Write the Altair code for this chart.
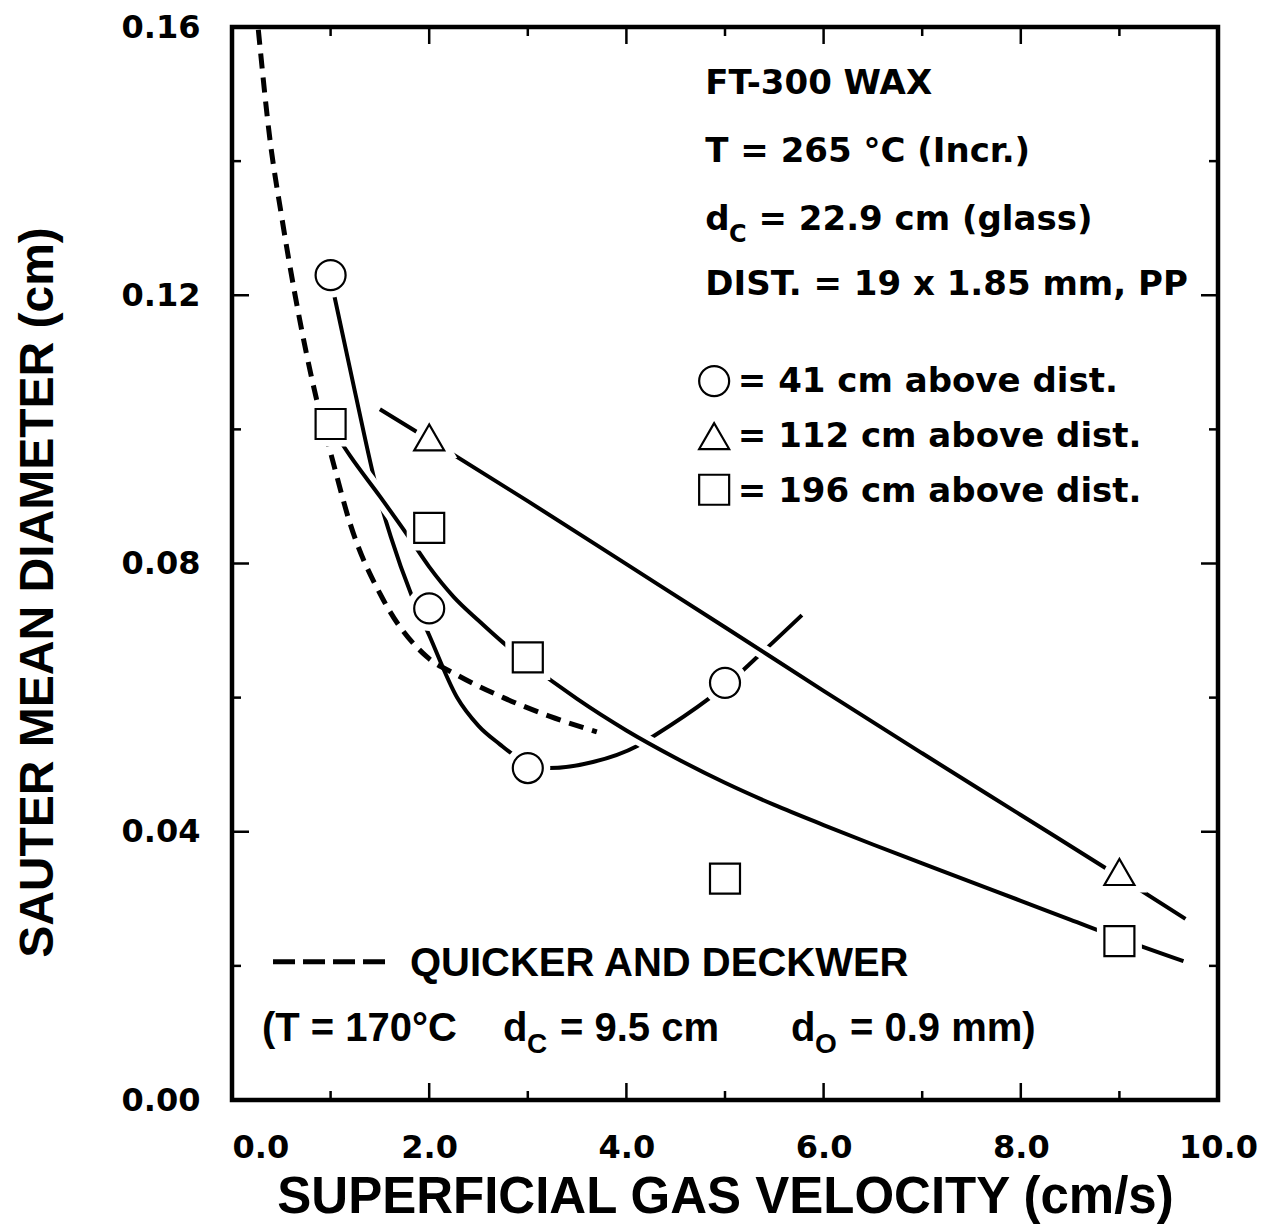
import altair as alt
import pandas as pd

# ---------------- data ----------------
# measured points (superficial gas velocity cm/s, Sauter mean diameter cm)
circle_x = [1.0, 2.0, 3.0, 5.0]
circle_y = [0.1230, 0.0733, 0.0495, 0.0622]
triangle_x = [2.0, 9.0]
triangle_y = [0.0988, 0.0340]
square_x = [1.0, 2.0, 3.0, 5.0, 9.0]
square_y = [0.1008, 0.0853, 0.0660, 0.0330, 0.0237]

# hand-drawn fitted curves
circle_curve_x = [1.0, 1.25, 1.47, 1.61, 1.82, 2.0, 2.28, 2.5, 2.72, 2.88, 3.05, 3.22, 3.66, 4.11, 4.29, 4.85, 5.0, 5.33, 5.78]
circle_curve_y = [0.1225, 0.1054, 0.0910, 0.0840, 0.0753, 0.0693, 0.0601, 0.0558, 0.0530, 0.0512, 0.0499, 0.0495, 0.0504, 0.0528, 0.0544, 0.0600, 0.0617, 0.0661, 0.0723]
triangle_curve_x = [1.5, 2.0, 3.0, 4.0, 5.0, 6.0, 7.0, 8.0, 9.0, 9.67]
triangle_curve_y = [0.1030, 0.0985, 0.0893, 0.0799, 0.0705, 0.0610, 0.0517, 0.0425, 0.0333, 0.0270]
square_curve_x = [1.0, 1.2, 1.5, 1.8, 2.0, 2.25, 2.5, 2.75, 3.0, 3.5, 4.0, 4.5, 5.0, 5.5, 6.0, 6.5, 7.0, 7.5, 8.0, 8.5, 9.0, 9.65]
square_curve_y = [0.1005, 0.0960, 0.0900, 0.0838, 0.0795, 0.0750, 0.0715, 0.0682, 0.0652, 0.0598, 0.0551, 0.0510, 0.0473, 0.0440, 0.0410, 0.0381, 0.0353, 0.0325, 0.0297, 0.0269, 0.0241, 0.0207]
# Quicker and Deckwer correlation (dashed)
qd_x = [0.267, 0.385, 0.504, 0.64, 0.859, 1.011, 1.197, 1.534, 1.975, 2.279, 2.752, 3.225, 3.70]
qd_y = [0.1596, 0.1432, 0.1317, 0.1200, 0.1044, 0.0959, 0.0860, 0.0746, 0.0661, 0.0634, 0.0600, 0.0572, 0.0549]

# axes
x_label_values = [0, 2, 4, 6, 8, 10]
y_label_values = [0.0, 0.04, 0.08, 0.12, 0.16]
x_major_ticks = [2, 4, 6, 8]
x_minor_ticks = [1, 3, 5, 7, 9]
y_major_ticks = [0.04, 0.08, 0.12]
y_minor_ticks = [0.02, 0.06, 0.10, 0.14]

# legend / annotation texts
series_names = ["41", "112", "196"]
legend_texts = ["= 41 cm above dist.", "= 112 cm above dist.", "= 196 cm above dist."]
legend_mx = [4.89, 4.89, 4.89]
legend_my = [0.1072, 0.0990, 0.0910]
legend_tx = [5.13, 5.13, 5.13]
legend_ty = [0.1055, 0.0973, 0.0892]

info_texts = ["FT-300 WAX", "T = 265 °C (Incr.)", "d", "= 22.9 cm (glass)", "DIST. = 19 x 1.85 mm, PP"]
info_x = [4.80, 4.80, 4.80, 5.34, 4.80]
info_y = [0.1500, 0.1399, 0.1297, 0.1297, 0.1200]
info_sub_texts = ["C"]
info_sub_x = [5.04]
info_sub_y = [0.1279]

note_texts = ["QUICKER AND DECKWER", "(T = 170°C", "d", "= 9.5 cm", "d", "= 0.9 mm)"]
note_x = [1.805, 0.304, 2.748, 3.327, 5.669, 6.268]
note_y = [0.0185, 0.0088, 0.0088, 0.0088, 0.0088, 0.0088]
note_sub_texts = ["C", "O"]
note_sub_x = [2.992, 5.913]
note_sub_y = [0.0070, 0.0070]
dash_sample_x = [0.416]
dash_sample_x2 = [1.602]
dash_sample_y = [0.0206]

# ---------------- build chart ----------------
W, H = 986, 1073
MAJ, MIN = 17, 9

def frame(xs, ys, series=None):
    d = pd.DataFrame({"x": xs, "y": ys})
    if series is not None:
        d["series"] = series
    return d

markers = pd.concat([
    frame(circle_x, circle_y, "41"),
    frame(triangle_x, triangle_y, "112"),
    frame(square_x, square_y, "196"),
])
curve_c = frame(circle_curve_x, circle_curve_y, "41")
curve_ts = pd.concat([
    frame(triangle_curve_x, triangle_curve_y, "112"),
    frame(square_curve_x, square_curve_y, "196"),
])
curve_qd = frame(qd_x, qd_y)

xs = alt.Scale(domain=[0, 10], nice=False, zero=False)
ys = alt.Scale(domain=[0, 0.16], nice=False, zero=False)
shape_scale = alt.Scale(domain=series_names, range=["circle", "triangle-up", "square"])

X = alt.X("x:Q", scale=xs, axis=alt.Axis(
    values=x_label_values, format=".1f", ticks=False, tickSize=0, domain=False, grid=False,
    labelFont="DejaVu Sans", labelFontWeight="bold", labelFontSize=32, labelColor="black",
    labelPadding=32, labelFlush=False, labelOverlap=False, labelBaseline="top",
    labelAlign={"condition": {"test": "datum.value === 0", "value": "left"}, "value": "center"},
    title="SUPERFICIAL GAS VELOCITY (cm/s)", titleFont="Liberation Sans", titleFontWeight="bold",
    titleFontSize=51, titleColor="black", titleY=112, titleBaseline="alphabetic"))
Y = alt.Y("y:Q", scale=ys, axis=alt.Axis(
    values=y_label_values, format=".2f", ticks=False, tickSize=0, domain=False, grid=False,
    labelFont="DejaVu Sans", labelFontWeight="bold", labelFontSize=32, labelColor="black",
    labelPadding=32, labelFlush=False, labelOverlap=False,
    title="SAUTER MEAN DIAMETER (cm)", titleFont="Liberation Sans", titleFontWeight="bold",
    titleFontSize=48, titleColor="black", titleX=-194, titleY=565, titleAngle=270,
    titleBaseline="middle", titleAlign="center"))

layers = []

# tick marks (inward, on all four sides)
def xticks(vals, length):
    d = pd.DataFrame({"x": vals})
    b = alt.Chart(d).mark_rule(color="black", strokeWidth=2.5).encode(x=X, y=alt.value(H), y2=alt.value(H - length))
    t = alt.Chart(d).mark_rule(color="black", strokeWidth=2.5).encode(x=X, y=alt.value(0), y2=alt.value(length))
    return [b, t]

def yticks(vals, length):
    d = pd.DataFrame({"y": vals})
    l = alt.Chart(d).mark_rule(color="black", strokeWidth=2.5).encode(y=Y, x=alt.value(0), x2=alt.value(length))
    r = alt.Chart(d).mark_rule(color="black", strokeWidth=2.5).encode(y=Y, x=alt.value(W), x2=alt.value(W - length))
    return [l, r]

layers += xticks(x_major_ticks, MAJ) + xticks(x_minor_ticks, MIN)
layers += yticks(y_major_ticks, MAJ) + yticks(y_minor_ticks, MIN)

# dashed correlation
layers.append(alt.Chart(curve_qd).mark_line(color="black", strokeWidth=5, strokeDash=[15, 9],
                                            interpolate="monotone").encode(x=X, y=Y))
# circle curve
layers.append(alt.Chart(curve_c).mark_line(color="black", strokeWidth=4,
                                           interpolate="monotone").encode(x=X, y=Y))
# white casing to break crossing curve, then triangle / square curves
layers.append(alt.Chart(curve_ts).mark_line(color="white", strokeWidth=15, strokeCap="butt",
                                            interpolate="monotone").encode(x=X, y=Y, detail="series:N"))
layers.append(alt.Chart(curve_ts).mark_line(color="black", strokeWidth=4,
                                            interpolate="monotone").encode(x=X, y=Y, detail="series:N"))
# marker halos and markers
layers.append(alt.Chart(markers).mark_point(filled=True, fill="white", stroke="white", strokeWidth=15,
                                            size=900, opacity=1).encode(
    x=X, y=Y, shape=alt.Shape("series:N", scale=shape_scale, legend=None)))
layers.append(alt.Chart(markers).mark_point(filled=True, fill="white", stroke="black", strokeWidth=2.2,
                                            size=900, opacity=1).encode(
    x=X, y=Y, shape=alt.Shape("series:N", scale=shape_scale, legend=None)))

# legend markers
leg = pd.DataFrame({"x": legend_mx, "y": legend_my, "series": series_names})
layers.append(alt.Chart(leg).mark_point(filled=True, fill="white", stroke="black", strokeWidth=2.2,
                                        size=900, opacity=1).encode(
    x=X, y=Y, shape=alt.Shape("series:N", scale=shape_scale, legend=None)))

def text_layer(texts, xs_, ys_, font, size):
    d = pd.DataFrame({"x": xs_, "y": ys_, "t": texts})
    return alt.Chart(d).mark_text(align="left", baseline="alphabetic", font=font, fontSize=size,
                                  fontWeight="bold", color="black").encode(x=X, y=Y, text="t:N")

layers.append(text_layer(legend_texts, legend_tx, legend_ty, "DejaVu Sans", 34))
layers.append(text_layer(info_texts, info_x, info_y, "DejaVu Sans", 34))
layers.append(text_layer(info_sub_texts, info_sub_x, info_sub_y, "DejaVu Sans", 24))
layers.append(text_layer(note_texts, note_x, note_y, "Liberation Sans", 40))
layers.append(text_layer(note_sub_texts, note_sub_x, note_sub_y, "Liberation Sans", 28))

# dashed legend sample
ds = pd.DataFrame({"x": dash_sample_x, "x2": dash_sample_x2, "y": dash_sample_y})
layers.append(alt.Chart(ds).mark_rule(color="black", strokeWidth=5, strokeDash=[22, 8]).encode(
    x=X, x2="x2:Q", y=Y))

chart = alt.layer(*layers).properties(
    width=W, height=H,
    autosize=alt.AutoSizeParams(type="none"),
    padding={"left": 224, "top": 19, "right": 45, "bottom": 125},
    background="white",
).configure_view(stroke="black", strokeWidth=4.5)

chart.save("out.html", embed_options={"renderer": "svg", "actions": False})
